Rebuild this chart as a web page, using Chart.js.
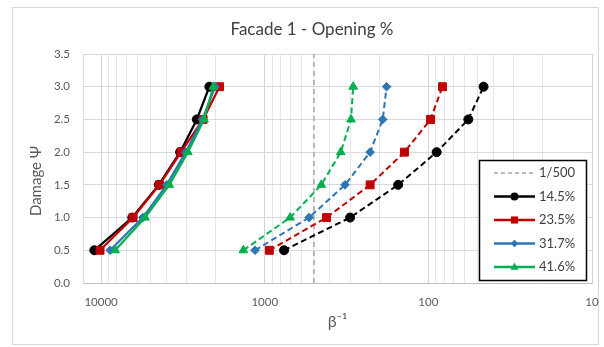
<!DOCTYPE html>
<html>
<head>
<meta charset="utf-8">
<script src="https://cdn.jsdelivr.net/npm/chart.js@4"></script>
<style>
  html, body { margin: 0; padding: 0; background: #fff; }
</style>
</head>
<body>
<canvas id="facadeChart" width="604" height="347"></canvas>
<script>
// damage levels (y) shared by every curve
const damage = [0.5, 1.0, 1.5, 2.0, 2.5, 3.0];
const seriesNames = ['14.5%', '23.5%', '31.7%', '41.6%'];

// left group, solid lines (beta^-1)
const solid145 = [11000, 6450, 4440, 3290, 2600, 2180];
const solid235 = [10150, 6380, 4400, 3250, 2380, 1890];
const solid317 = [8800, 5560, 3970, 3040, 2400, 2010];
const solid416 = [8200, 5390, 3830, 2950, 2350, 2060];

// right group, dashed lines (beta^-1)
const dashed145 = [762, 301, 153, 89, 57, 46];
const dashed235 = [937, 419, 227, 140, 97, 82];
const dashed317 = [1146, 536, 323, 227, 190, 180];
const dashed416 = [1351, 700, 451, 343, 297, 288];

const limitLabel = '1/500';
const limitValue = 500;

const xTickLabels = [10, 100, 1000, 10000];
const xMin = 10;
const xMax = 12900;

const colors = ['#000000', '#C00000', '#2E75B6', '#00B050'];
const markers = ['circle', 'rect', 'rectRot', 'triangle'];
const markerSize = [4.5, 5.6, 4.3, 5];

const FONT = 'Lato, "Open Sans", sans-serif';
const TEXT = '#595959';

const toPoints = arr => damage.map((y, i) => ({ x: arr[i], y: y }));

const solids = [solid145, solid235, solid317, solid416];
const dashes = [dashed145, dashed235, dashed317, dashed416];

const datasets = [{
    label: limitLabel,
    data: [{ x: limitValue, y: 0 }, { x: limitValue, y: 3.5 }],
    borderColor: '#A6A6A6',
    borderWidth: 1.5,
    borderDash: [5, 4],
    pointRadius: 0,
    order: 10
}];

seriesNames.forEach((name, i) => {
    const common = {
        label: name,
        borderColor: colors[i],
        backgroundColor: colors[i],
        pointStyle: markers[i],
        pointRadius: markerSize[i],
        pointBorderWidth: 1,
        tension: 0,
        order: 4 - i
    };
    datasets.push(Object.assign({}, common, { data: toPoints(solids[i]), borderWidth: 2.25 }));
    datasets.push(Object.assign({}, common, { data: toPoints(dashes[i]), borderWidth: 2, borderDash: [6, 3.5] }));
});

function drawMarker(ctx, style, x, y, r) {
    ctx.beginPath();
    if (style === 'circle') {
        ctx.arc(x, y, r, 0, Math.PI * 2);
    } else if (style === 'rect') {
        const s = r * Math.SQRT1_2;
        ctx.rect(x - s, y - s, 2 * s, 2 * s);
    } else if (style === 'rectRot') {
        ctx.moveTo(x, y - r); ctx.lineTo(x + r, y); ctx.lineTo(x, y + r); ctx.lineTo(x - r, y);
        ctx.closePath();
    } else {
        ctx.moveTo(x, y - r); ctx.lineTo(x + r * 0.9, y + r * 0.6); ctx.lineTo(x - r * 0.9, y + r * 0.6);
        ctx.closePath();
    }
    ctx.fill();
}

const frame = {
    id: 'frame',
    beforeDraw(chart) {
        const ctx = chart.ctx;
        ctx.save();
        ctx.fillStyle = '#fff';
        ctx.fillRect(0, 0, chart.width, chart.height);
        ctx.strokeStyle = '#D9D9D9';
        ctx.lineWidth = 1;
        ctx.strokeRect(12.5, 7.5, 586, 337);
        ctx.restore();
    },
    afterDraw(chart) {
        const ctx = chart.ctx;
        ctx.save();
        // title
        ctx.fillStyle = '#404040';
        ctx.font = '17px ' + FONT;
        ctx.textAlign = 'center';
        ctx.textBaseline = 'middle';
        ctx.fillText('Facade 1 - Opening %', 312, 30);

        // y axis title, sits a bit below the plot centre like the original
        ctx.save();
        ctx.translate(36, 181);
        ctx.rotate(-Math.PI / 2);
        ctx.fillStyle = TEXT;
        ctx.font = '15px ' + FONT;
        ctx.fillText('Damage Ψ', 0, 0);
        ctx.restore();

        // legend box
        const bx = 479.5, by = 160.5, bw = 107, bh = 120;
        ctx.fillStyle = '#fff';
        ctx.fillRect(bx, by, bw, bh);
        ctx.strokeStyle = '#000';
        ctx.lineWidth = 1.5;
        ctx.strokeRect(bx, by, bw, bh);

        const rowY = [173, 196.5, 220, 243.5, 267];
        const x1 = 494, x2 = 535;
        ctx.font = '13px ' + FONT;
        ctx.textAlign = 'left';
        ctx.textBaseline = 'middle';

        // 1/500 entry
        ctx.strokeStyle = '#A6A6A6';
        ctx.lineWidth = 1.5;
        ctx.setLineDash([4, 3]);
        ctx.beginPath(); ctx.moveTo(x1, rowY[0]); ctx.lineTo(x2, rowY[0]); ctx.stroke();
        ctx.setLineDash([]);
        ctx.fillStyle = '#404040';
        ctx.fillText(limitLabel, x2 + 4, rowY[0]);

        seriesNames.forEach((name, i) => {
            const y = rowY[i + 1];
            ctx.strokeStyle = colors[i];
            ctx.fillStyle = colors[i];
            ctx.lineWidth = 2.5;
            ctx.beginPath(); ctx.moveTo(x1, y); ctx.lineTo(x2, y); ctx.stroke();
            drawMarker(ctx, markers[i], (x1 + x2) / 2, y, markerSize[i] * 0.9);
            ctx.fillStyle = '#404040';
            ctx.fillText(name, x2 + 4, y);
        });
        ctx.restore();
    }
};

const ctx = document.getElementById('facadeChart').getContext('2d');

new Chart(ctx, {
    type: 'line',
    data: { datasets: datasets },
    options: {
        responsive: false,
        animation: false,
        layout: { padding: { left: 12, right: 12, top: 54, bottom: 0 } },
        scales: {
            x: {
                type: 'logarithmic',
                reverse: true,
                min: xMin,
                max: xMax,
                afterBuildTicks: scale => {
                    const t = [];
                    for (let d = 10; d <= 10000; d *= 10) {
                        for (let m = 1; m < 10; m++) {
                            if (m * d <= xMax) t.push({ value: m * d });
                        }
                    }
                    scale.ticks = t;
                },
                afterFit: scale => { scale.height = 64; },
                ticks: {
                    autoSkip: false,
                    maxRotation: 0,
                    padding: 12,
                    color: TEXT,
                    font: { family: FONT, size: 11.5 },
                    callback: v => xTickLabels.includes(v) ? String(v) : ''
                },
                grid: {
                    drawTicks: false,
                    color: c => (c.tick && xTickLabels.includes(c.tick.value)) ? '#D4D4D4' : '#E6E6E6'
                },
                border: { color: '#BFBFBF', width: 1 },
                title: {
                    display: true,
                    text: 'β⁻¹',
                    color: TEXT,
                    font: { family: FONT, size: 16 },
                    padding: { top: 0, bottom: 16 }
                }
            },
            y: {
                min: 0,
                max: 3.5,
                afterFit: scale => { scale.width = 71; },
                ticks: {
                    stepSize: 0.5,
                    padding: 13,
                    color: TEXT,
                    font: { family: FONT, size: 11.5 },
                    callback: v => Number(v).toFixed(1)
                },
                grid: { drawTicks: false, color: '#D9D9D9' },
                border: { color: '#D9D9D9' }
            }
        },
        plugins: {
            legend: { display: false },
            tooltip: { enabled: false }
        }
    },
    plugins: [frame]
});
</script>
</body>
</html>
